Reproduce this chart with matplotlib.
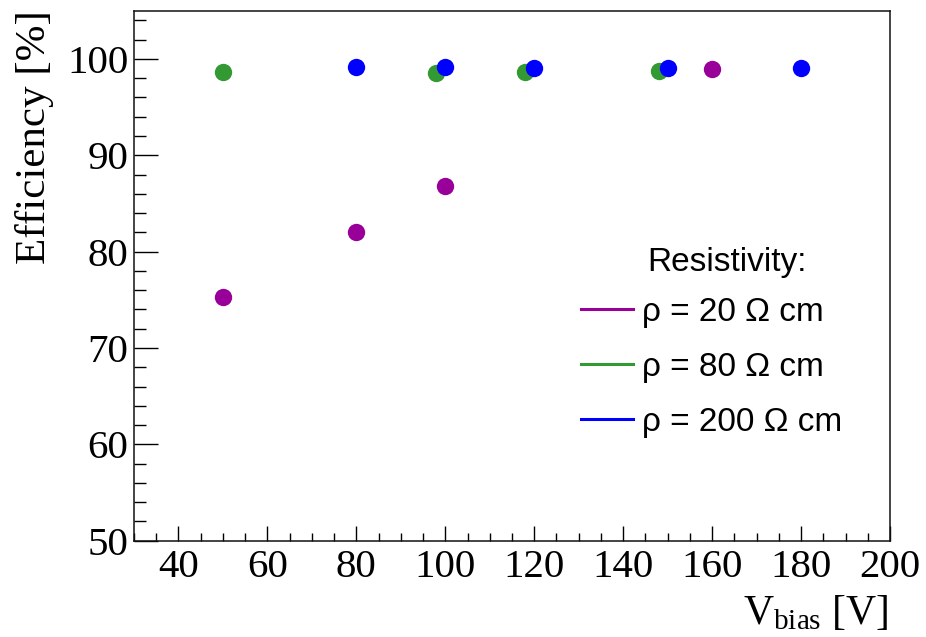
import matplotlib
matplotlib.use("Agg")
import matplotlib.pyplot as plt
from matplotlib.lines import Line2D
from matplotlib.ticker import MultipleLocator

# Efficiency vs bias voltage for three substrate resistivities
v_rho20 = [50, 80, 100, 160]
eff_rho20 = [75.3, 82.0, 86.8, 99.0]

v_rho80 = [50, 98, 118, 148]
eff_rho80 = [98.6, 98.5, 98.6, 98.75]

v_rho200 = [80, 100, 120, 150, 180]
eff_rho200 = [99.2, 99.2, 99.1, 99.1, 99.1]

series_labels = [r"ρ = 20 Ω cm", r"ρ = 80 Ω cm", r"ρ = 200 Ω cm"]
series_colors = ["#990099", "#339933", "#0000ff"]

plt.rcParams["mathtext.fontset"] = "custom"
plt.rcParams["mathtext.rm"] = "Liberation Serif"
plt.rcParams["mathtext.it"] = "Liberation Serif"

W, H = 926, 637
fig = plt.figure(figsize=(W / 100, H / 100), dpi=100)
ax = fig.add_axes([134 / W, 1 - 540.7 / H, (890 - 134) / W, (540.7 - 10.7) / H])

for xs, ys, c in zip([v_rho20, v_rho80, v_rho200],
                     [eff_rho20, eff_rho80, eff_rho200], series_colors):
    ax.plot(xs, ys, linestyle="none", marker="o", markersize=12.5,
            markerfacecolor=c, markeredgecolor=c, markeredgewidth=0)

ax.set_xlim(30, 200)
ax.set_ylim(50, 105)
ax.xaxis.set_major_locator(MultipleLocator(20))
ax.xaxis.set_minor_locator(MultipleLocator(5))
ax.yaxis.set_major_locator(MultipleLocator(10))
ax.yaxis.set_minor_locator(MultipleLocator(2))

for s in ax.spines.values():
    s.set_linewidth(1.1)
    s.set_color("#111111")

ax.tick_params(axis="x", which="major", direction="in", length=11, width=1.0,
               pad=6, top=False)
ax.tick_params(axis="x", which="minor", direction="in", length=5.5, width=1.0,
               top=False)
ax.tick_params(axis="y", which="major", direction="in", length=17, width=1.0,
               pad=4, right=False)
ax.tick_params(axis="y", which="minor", direction="in", length=8.5, width=1.0,
               right=False)
for lab in ax.get_xticklabels() + ax.get_yticklabels():
    lab.set_fontfamily("Liberation Serif")
    lab.set_fontsize(29.5)

fig.text(888 / W, 1 - 624 / H, r"$\mathrm{V}_{\mathrm{bias}}$ [V]",
         ha="right", va="baseline", fontsize=30, family="Liberation Serif")
fig.text(15 / W, 1 - 10 / H, "Efficiency [%]", rotation=90,
         ha="left", va="top", fontsize=31, family="Liberation Serif")

handles = [Line2D([], [], color=c, linewidth=2.2) for c in series_colors]
leg = ax.legend(handles, series_labels, loc="upper left",
                bbox_to_anchor=(581 / W, 1 - 297 / H),
                bbox_transform=fig.transFigure, frameon=False,
                prop={"family": "Liberation Sans", "size": 24},
                handlelength=1.55, handletextpad=0.27, labelspacing=0.72,
                borderpad=0, borderaxespad=0)
fig.text(647 / W, 1 - 262 / H, "Resistivity:", ha="left", va="center",
         fontsize=24, family="Liberation Sans")

fig.savefig("out.png", dpi=100)
